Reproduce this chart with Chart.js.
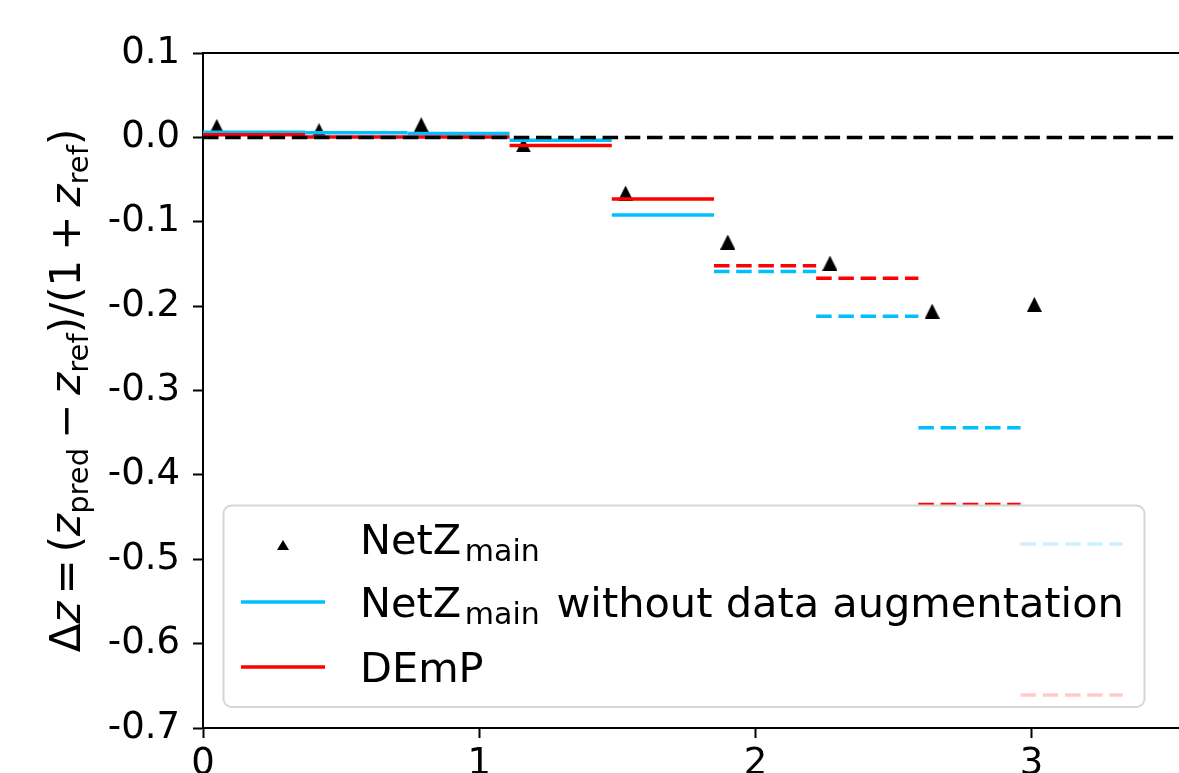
<!DOCTYPE html>
<html lang="en">
<head>
  <meta charset="UTF-8" />
  <title>Δz per redshift bin</title>
  <script src="https://cdn.jsdelivr.net/npm/chart.js"></script>
  <style>
    html, body {
      margin: 0;
      padding: 0;
      background: #fff;
      overflow: hidden;
    }
  </style>
</head>
<body>
  <canvas id="dzChart" width="1183" height="773"></canvas>

  <script>
    // redshift bin edges (z_ref)
    const binEdges = [0, 0.37, 0.74, 1.11, 1.48, 1.85, 2.22, 2.59, 2.96, 3.33];
    // NetZ_main points
    const netzX = [0.05, 0.42, 0.79, 1.16, 1.53, 1.90, 2.27, 2.64, 3.01];
    const netzY = [0.013, 0.008, 0.015, -0.009, -0.066, -0.124, -0.149, -0.206, -0.198];
    // per-bin values of the two comparison runs
    const noAugY = [0.006, 0.0055, 0.0045, -0.0035, -0.092, -0.159, -0.212, -0.344, -0.482];
    const dempY = [0.003, 0.0005, 0.0005, -0.0095, -0.073, -0.152, -0.167, -0.435, -0.661];
    const firstDashedBin = 5;
    const xMax = 3.53;
    const yMin = -0.7, yMax = 0.1;

    const BLUE = '#00bfff';
    const RED = '#ff0000';
    const FONT = 'DejaVu Sans';
    const DASH = [15.5, 6.7];

    // matplotlib-like '^' marker
    const triangle = (w, h) => {
      const c = document.createElement('canvas');
      c.width = w; c.height = h;
      const g = c.getContext('2d');
      g.fillStyle = '#000';
      g.beginPath();
      g.moveTo(w / 2, 0);
      g.lineTo(w, h);
      g.lineTo(0, h);
      g.closePath();
      g.fill();
      return c;
    };

    // one flat segment per bin, broken with nulls
    const stepData = (vals) => {
      const pts = [];
      vals.forEach((v, i) => {
        pts.push({ x: binEdges[i], y: v }, { x: binEdges[i + 1], y: v }, { x: binEdges[i + 1], y: null });
      });
      return pts;
    };
    const binDash = (ctx) => Math.floor(ctx.p0DataIndex / 3) >= firstDashedBin ? DASH : undefined;

    // draws a list of text pieces (with sub-scripts) starting at x, baseline y
    const drawRich = (ctx, parts, x, y, center) => {
      const fontOf = (p) => `${p.italic ? 'italic ' : ''}${p.size}px "${FONT}"`;
      let total = 0;
      parts.forEach(p => {
        ctx.font = fontOf(p);
        p.w = ctx.measureText(p.t).width;
        total += p.w + (p.gap || 0);
      });
      let cx = center ? x - total / 2 : x;
      parts.forEach(p => {
        ctx.font = fontOf(p);
        ctx.fillText(p.t, cx + (p.gap || 0) / 2, y + (p.dy || 0));
        cx += p.w + (p.gap || 0);
      });
    };

    const L = 42, LS = 29, LD = 8;
    const yTitleParts = [
      { t: 'Δ', size: L },
      { t: 'z', size: L, italic: true },
      { t: '=', size: L, gap: 14 },
      { t: '(', size: L },
      { t: 'z', size: L, italic: true },
      { t: 'pred', size: LS, dy: LD },
      { t: '−', size: L, gap: 18 },
      { t: 'z', size: L, italic: true },
      { t: 'ref', size: LS, dy: LD },
      { t: ')/(1', size: L },
      { t: '+', size: L, gap: 18 },
      { t: 'z', size: L, italic: true },
      { t: 'ref', size: LS, dy: LD },
      { t: ')', size: L }
    ];

    const extras = {
      id: 'extras',
      afterDraw(chart) {
        const ctx = chart.ctx;
        const area = chart.chartArea;
        ctx.save();
        ctx.fillStyle = '#000';
        ctx.textBaseline = 'alphabetic';
        ctx.textAlign = 'left';

        // rotated y-axis title
        ctx.save();
        ctx.translate(80, (area.top + area.bottom) / 2);
        ctx.rotate(-Math.PI / 2);
        drawRich(ctx, yTitleParts, 0, 0, true);
        ctx.restore();

        // legend box
        const bx = 223.5, by = 505.5, bw = 921, bh = 201.5;
        ctx.beginPath();
        ctx.roundRect(bx, by, bw, bh, 8);
        ctx.fillStyle = 'rgba(255,255,255,0.8)';
        ctx.fill();
        ctx.lineWidth = 2;
        ctx.strokeStyle = '#d6d6d6';
        ctx.stroke();

        ctx.drawImage(triangle(12, 10), 277, 540);

        ctx.lineWidth = 3.5;
        ctx.strokeStyle = BLUE;
        ctx.beginPath(); ctx.moveTo(241, 602); ctx.lineTo(325, 602); ctx.stroke();
        ctx.strokeStyle = RED;
        ctx.beginPath(); ctx.moveTo(241, 667); ctx.lineTo(325, 667); ctx.stroke();

        ctx.fillStyle = '#000';
        const netz = [
          { t: 'NetZ', size: 41.5 },
          { t: 'main', size: 30, dy: 7, gap: 7 }
        ];
        drawRich(ctx, netz, 360, 553.5, false);
        drawRich(ctx, netz.map(p => ({ ...p })).concat([{ t: ' without data augmentation', size: 41.5 }]), 360, 616.5, false);
        drawRich(ctx, [{ t: 'DEmP', size: 41.5 }], 360, 681.5, false);

        ctx.restore();
      }
    };

    const tickFont = { family: FONT, size: 37 };

    new Chart(document.getElementById('dzChart'), {
      type: 'line',
      data: {
        datasets: [
          {
            label: 'zero',
            data: [{ x: 0, y: 0 }, { x: xMax, y: 0 }],
            borderColor: '#000',
            borderWidth: 3.5,
            borderDash: DASH,
            pointRadius: 0,
            order: 0
          },
          {
            label: 'DEmP',
            data: stepData(dempY),
            borderColor: RED,
            borderWidth: 3.5,
            pointRadius: 0,
            spanGaps: false,
            segment: { borderDash: binDash },
            order: 1
          },
          {
            label: 'NetZ_main without data augmentation',
            data: stepData(noAugY),
            borderColor: BLUE,
            borderWidth: 3.5,
            pointRadius: 0,
            spanGaps: false,
            segment: { borderDash: binDash },
            order: 2
          },
          {
            type: 'scatter',
            label: 'NetZ_main',
            data: netzX.map((x, i) => ({ x, y: netzY[i] })),
            pointStyle: triangle(15, 15),
            backgroundColor: '#000',
            showLine: false,
            order: 3
          }
        ]
      },
      options: {
        responsive: false,
        animation: false,
        devicePixelRatio: 1,
        layout: { padding: { top: 53, left: 0, right: 0, bottom: 0 } },
        plugins: {
          legend: { display: false },
          tooltip: { enabled: false },
          title: { display: false }
        },
        events: [],
        scales: {
          x: {
            type: 'linear',
            position: 'bottom',
            min: 0,
            max: xMax,
            afterFit: (s) => { s.height = 45; },
            ticks: { stepSize: 1, includeBounds: false, color: '#000', font: tickFont, padding: 4, maxRotation: 0 },
            grid: { drawOnChartArea: false, drawTicks: true, tickLength: 10, tickWidth: 2, tickColor: '#000' },
            border: { display: true, color: '#000', width: 2 }
          },
          x2: {
            type: 'linear',
            position: 'top',
            min: 0,
            max: xMax,
            afterFit: (s) => { s.height = 0; },
            ticks: { display: false, includeBounds: false },
            grid: { drawOnChartArea: false, drawTicks: false },
            border: { display: true, color: '#000', width: 2 }
          },
          y: {
            min: yMin,
            max: yMax,
            afterFit: (s) => { s.width = 203; },
            ticks: {
              stepSize: 0.1,
              color: '#000',
              font: tickFont,
              padding: 13,
              callback: (v) => Number(v).toFixed(1)
            },
            grid: { drawOnChartArea: false, drawTicks: true, tickLength: 10, tickWidth: 2, tickColor: '#000' },
            border: { display: true, color: '#000', width: 2 }
          }
        }
      },
      plugins: [extras]
    });
  </script>
</body>
</html>
